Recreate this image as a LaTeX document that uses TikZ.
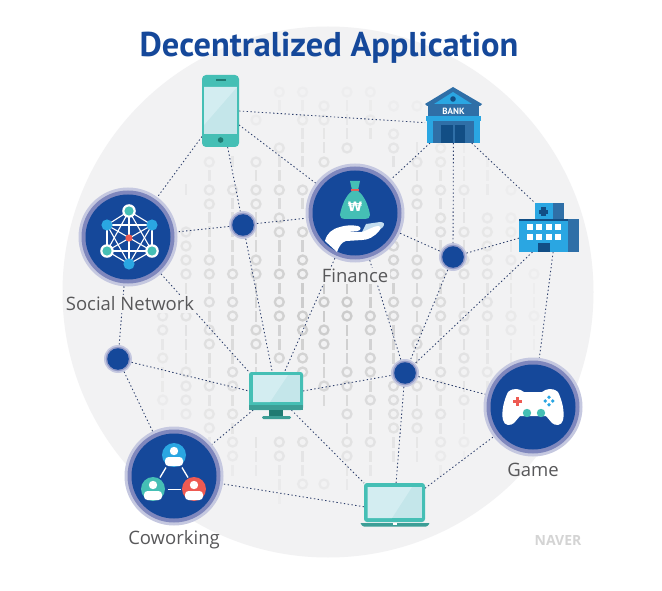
\documentclass[tikz,border=0pt]{standalone}
\usepackage{fontspec}
\setmainfont{Open Sans}
\newfontfamily\titlefont{PT Sans}
\newfontfamily\symfont{DejaVu Sans}
\definecolor{bgc}{HTML}{F2F2F3}
\definecolor{navy}{HTML}{15489A}
\definecolor{ringa}{HTML}{7F87BD}
\definecolor{ringb}{HTML}{C5C8E0}
\definecolor{teal}{HTML}{45BFB5}
\definecolor{tealdk}{HTML}{3C9E96}
\definecolor{tealxd}{HTML}{1F7A72}
\definecolor{scr}{HTML}{C4E6EA}
\definecolor{scrl}{HTML}{D3EDF1}
\definecolor{skyb}{HTML}{2AA6E2}
\definecolor{midb}{HTML}{2F6FA7}
\definecolor{darkb}{HTML}{124E85}
\definecolor{redc}{HTML}{EE5A52}
\definecolor{txt}{HTML}{58585A}
\definecolor{dotc}{HTML}{2C3E6B}
\definecolor{patc}{HTML}{CACACA}
\tikzset{
  bigcirc/.style={circle,fill=ringb,minimum size=99pt,inner sep=0pt,outer sep=0pt},
  hubnode/.style={circle,fill=ringb,minimum size=28pt,inner sep=0pt,outer sep=0pt},
  iconbox/.style={rectangle,inner sep=0pt,outer sep=0pt},
  link/.style={draw=dotc,line width=0.85pt,dash pattern=on 1.4pt off 2.4pt},
  lab/.style={text=txt,font=\fontsize{18.5}{20}\selectfont,fill=bgc,inner sep=1.5pt},
}
\newcommand\patcell[1]{%
  \pgfmathsetmacro\patop{max(0.1,min(1,1.05-veclen(\patx-330,\paty-300)/220))}%
  \if#1o\draw[patc,line width=2.3pt,opacity=\patop] (\patx,\paty) circle (4.5pt);\fi
  \if#1b\fill[patc,opacity=\patop] (\patx-1.3,\paty-5.5) rectangle (\patx+1.3,\paty+5.5);\fi
  \pgfmathsetmacro\paty{\paty+14}}
\def\patnext#1{\ifx#1\relax\let\patgo\relax\else\patcell{#1}\let\patgo\patnext\fi\patgo}
\newcommand\patcol[2]{\def\patx{#1}\def\paty{92}\patnext#2\relax}
\newcommand\bigdisc[1]{\fill[ringa] (#1) circle (46.5pt); \fill[navy] (#1) circle (42.5pt);}
\newcommand\person[2]{\begin{scope}[shift={(#1)}]
  \fill[#2] (0,0) circle (12pt);
  \fill[white] (0,-4) circle (4.2pt);
  \fill[white,rounded corners=3.5pt] (-9,2) rectangle (9,11);
\end{scope}}
\begin{document}
\begin{tikzpicture}[x=1pt,y=-1pt]
\useasboundingbox (0,0) rectangle (662,591);
\fill[white] (0,0) rectangle (662,591);
\fill[bgc] (328,292) circle (265.5pt);
% binary pattern
\patcol{162.7}{nnnnnnnnnnnnnnnnoobobbobnnnnnnn}
\patcol{186}{nnnnnnnbnnoooobnobbboooonnnnnnn}
\patcol{209.3}{nnnnn oboobbb oob ob oo bb oboobb nnnn}
\patcol{232.6}{nnnnn b n o bbbbb o b oo bbb oo b o b oo b nnn}
\patcol{256}{nn o nn o b oo bbb oo bbb oo bb nnnn bbb nnn}
\patcol{279.3}{ob nn o bb o b oo bb o b oo bb o nnnnn oo bbb n}
\patcol{302.6}{obobbb n o b n o b oo bb oo b oo n nnn o bb o nn}
\patcol{324}{noobbo nnnnnnnn boboobbob nnnnn onn}
\patcol{347}{obbbo nnnnnnnnn boo bbb oo b o b oo bb nn}
\patcol{370.3}{obob nnnnnnnnnn bb oo b oo b o bb o bb nnn}
\patcol{393.6}{nonoob nnnnn ooo b oo bbb n oooo bb nnnn}
\patcol{417}{n o nn b o b oo bbb oo b o b oo bb o b oo bb nnnn}
\patcol{440.6}{nnnn oo b o b oo b n o b oo bbb oo b o b oo b nnn}
\patcol{464}{nnnn bbb o bb o b oo bb oo b oo b o bb o b nnnn}
\patcol{487.3}{nnnnn bbb n ooooo b oo bbb o bb nnnnnnnn}
\patcol{511}{nnnnnnn o n oo b o bbb oo bbb nnnnnnnnnn}
\patcol{534}{nnnnnnnnnnnnn o bb o bb nnnnnnnnnnnn}
% nodes
\node[bigcirc] (finance) at (355,213) {};
\node[bigcirc] (social) at (128,237) {};
\node[bigcirc] (cowork) at (174,476) {};
\node[bigcirc] (game) at (533,407) {};
\node[hubnode] (hubA) at (243,225) {};
\node[hubnode] (hubB) at (453,257) {};
\node[hubnode] (hubC) at (405,373) {};
\node[hubnode] (hubD) at (118,359) {};
\node[iconbox,minimum width=37pt,minimum height=72pt] (phone) at (220.5,111) {};
\node[iconbox,minimum width=57pt,minimum height=56pt] (bank) at (453.5,115) {};
\node[iconbox,minimum width=60pt,minimum height=33pt] (hospMain) at (549,235.5) {};
\node[iconbox,minimum width=29pt,minimum height=16pt] (hospUp) at (549.5,211) {};
\node[iconbox,minimum width=54pt,minimum height=38pt] (monitor) at (276,391) {};
\node[iconbox,minimum width=61pt,minimum height=39pt] (laptop) at (394.5,502.5) {};
% connectors
\draw[link] (phone.-37) -- (finance);
\draw[link] (phone.east) -- (bank.195);
\draw[link] (phone) -- (hubA);
\draw[link] (phone.234) -- (social);
\draw[link] (bank.-130) -- (finance);
\draw[link] (bank) -- (hubB);
\draw[link] (bank.-57) -- (hospUp.north west);
\draw[link] (hubA) -- (social);
\draw[link] (hubA) -- (finance);
\draw[link] (hubA) -- (monitor);
\draw[link] (finance) -- (hubB);
\draw[link] (finance) -- (monitor);
\draw[link] (finance) -- (hubC);
\draw[link] (hospMain.185) -- (hubB);
\draw[link] (hospMain.225) -- (hubC);
\draw[link] (hospMain.-76) -- (game);
\draw[link] (hubB) -- (hubC);
\draw[link] (social) -- (monitor.north west);
\draw[link] (social) -- (hubD);
\draw[link] (hubD) -- (monitor.west);
\draw[link] (hubD) -- (cowork);
\draw[link] (monitor) -- (cowork);
\draw[link] (monitor.-51) -- (laptop.north west);
\draw[link] (monitor.east) -- (hubC);
\draw[link] (hubC) -- (game);
\draw[link] (hubC) -- (laptop);
\draw[link] (laptop.25) -- (game);
\draw[link] (laptop.188) -- (cowork);
% hubs
\foreach \h in {hubA,hubB,hubC,hubD}{\fill[ringa!70!ringb] (\h) circle (12.3pt); \fill[navy] (\h) circle (10.8pt);}
% big discs
\bigdisc{finance} \bigdisc{social} \bigdisc{cowork} \bigdisc{game}
% phone icon
\fill[teal,rounded corners=4pt] (202,75) rectangle (239,147);
\fill[scr] (204,87) rectangle (237,134);
\fill[scrl] (204,87) -- (237,87) -- (204,125) -- cycle;
\fill[tealxd] (220.6,140) circle (2.8pt);
\fill[tealxd] (216,79.3) rectangle (226,80.7);
% bank icon
\fill[midb] (453,87) -- (482,104) -- (480,106) -- (427,106) -- (425,104) -- cycle;
\fill[skyb] (453,92) -- (472,104) -- (434,104) -- cycle;
\fill[darkb] (453,99) circle (2.8pt);
\fill[midb] (428,106) rectangle (479,116);
\node[text=white,font=\titlefont\bfseries\fontsize{9}{10}\selectfont,inner sep=0pt] (banktext) at (453.5,111) {BANK};
\fill[skyb] (426,116) rectangle (481,121);
\fill[midb] (433,121) rectangle (474,143);
\fill[skyb] (427,121) rectangle (433,143);
\fill[skyb] (474,121) rectangle (480,143);
\fill[darkb] (441,125) rectangle (452.5,143);
\fill[darkb] (454.5,125) rectangle (465,143);
% hospital icon
\fill[skyb] (535,203) rectangle (553,219);
\fill[midb] (553,203) rectangle (564,219);
\fill[skyb] (519,219) rectangle (568,252);
\fill[midb] (568,219) rectangle (579,252);
\fill[darkb] (519,219) rectangle (568,221);
\fill[darkb] (541,207.5) rectangle (545.5,216.5);
\fill[darkb] (538.7,209.8) rectangle (547.8,214.2);
\foreach \wx in {530,539.3,549,558.3}\foreach \wy in {227,237}{\fill[white] (\wx-3,\wy-3) rectangle (\wx+3,\wy+3);}
\fill[darkb] (538,243) rectangle (550,252);
% monitor icon
\fill[teal,rounded corners=2.5pt] (249,372) rectangle (303,410);
\fill[tealdk] (249,405) rectangle (303,410);
\fill[scr] (253,375) rectangle (300,402);
\fill[scrl] (253,375) -- (288,375) -- (270,402) -- (253,402) -- cycle;
\fill[tealxd] (269,410) rectangle (283,416);
\fill[tealdk,rounded corners=1.3pt] (262,416) rectangle (291,419);
% laptop icon
\fill[teal,rounded corners=3pt] (364,483) rectangle (425,522);
\fill[scr] (367.5,487) rectangle (421.5,518);
\fill[scrl] (367.5,487) -- (412,487) -- (392,518) -- (367.5,518) -- cycle;
\fill[tealdk,rounded corners=1pt] (360,523) -- (430,523) -- (427,526.5) -- (363,526.5) -- cycle;
\fill[white] (393,523) rectangle (397,525);
% finance icon
\fill[teal] (350,181) -- (360,181) -- (358,190) -- (352,190) -- cycle;
\fill[redc] (351,189) rectangle (359,191);
\fill[teal] (352,191) -- (358,191) .. controls (365,196) and (369,208) .. (370,215) .. controls (370,218) and (368,219) .. (365,219) -- (345,219) .. controls (342,219) and (340,218) .. (340,215) .. controls (341,208) and (345,196) .. (352,191) -- cycle;
\node[text=white,font=\symfont\bfseries\fontsize{13}{14}\selectfont,inner sep=0pt] (won) at (355,207) {₩};
\fill[ringb!60!skyb!50!white] (366,224) -- (380,222) .. controls (384,222) and (385,224) .. (383,227) -- (372,236) -- (362,232) -- cycle;
\fill[white] (325,241) .. controls (327,233) and (332,229) .. (340,227) .. controls (346,225) and (352,225) .. (358,226) .. controls (362,227) and (361,231) .. (357,231) -- (344,232) -- (362,232) .. controls (368,230) and (374,226) .. (378,226) .. controls (381,226) and (381,229) .. (379,231) .. controls (374,237) and (368,240) .. (362,240) -- (346,241) .. controls (342,242) and (339,246) .. (337,252) -- cycle;
% social icon
\coordinate (gtop) at (129,211); \coordinate (gtr) at (152,225); \coordinate (gbr) at (152,251);
\coordinate (gbot) at (129,264); \coordinate (gbl) at (107,251); \coordinate (gtl) at (107,225); \coordinate (gc) at (129,238);
\foreach \a/\b in {gtop/gtr,gtr/gbr,gbr/gbot,gbot/gbl,gbl/gtl,gtl/gtop,gtop/gbot,gtl/gbr,gtr/gbl,gtop/gbr,gtop/gbl,gtl/gtr,gbl/gbr,gtl/gbot,gtr/gbot}{\draw[white,line width=1.1pt] (\a) -- (\b);}
\foreach \n/\c in {gtop/teal,gbr/teal,gbl/teal}{\fill[white] (\n) circle (6.8pt); \fill[\c] (\n) circle (4.6pt);}
\foreach \n in {gtr,gbot,gtl}{\fill[skyb] (\n) circle (5.6pt);}
\fill[redc] (gc) circle (3.6pt);
% coworking icon
\draw[white,line width=1.3pt] (166,467.5) -- (160,477.5);
\draw[white,line width=1.3pt] (182,467.5) -- (188,477.5);
\draw[white,line width=1.3pt] (167.5,489.5) -- (180.5,489.5);
\person{174,455}{skyb}
\person{153,489}{teal}
\person{194,489}{redc}
% game icon
\fill[white] (508,392) .. controls (514,387) and (520,389) .. (524,392) -- (542,392) .. controls (546,389) and (552,387) .. (558,392) .. controls (562,400) and (565,412) .. (563,420) .. controls (562,426) and (555,426) .. (552,423) -- (546,416) -- (520,416) -- (514,423) .. controls (511,426) and (504,426) .. (503,420) .. controls (501,412) and (504,400) .. (508,392) -- cycle;
\fill[redc] (515.5,396.5) rectangle (518.5,405.5);
\fill[redc] (512.5,399.5) rectangle (521.5,402.5);
\foreach \dx/\dy in {0/-3.8,0/3.8,-3.8/0,3.8/0}{\fill[skyb] (549+\dx,401+\dy) circle (1.9pt);}
\fill[teal] (527,413) circle (4.2pt);
\fill[teal] (541,413) circle (4.2pt);
% labels
\node[lab] (lfinance) at (355,276) {Finance};
\node[lab] (lsocial) at (130,304) {Social Network};
\node[lab,fill=none] (lcowork) at (174,540) {Coworking};
\node[lab,fill=none] (lgame) at (533,470) {Game};
\node[text=navy,font=\titlefont\bfseries\fontsize{34.4}{36}\selectfont,inner sep=0pt] (title) at (329,48) {Decentralized Application};
\node[text=black!17,font=\bfseries\fontsize{14}{15}\selectfont,inner sep=0pt] (naver) at (558,540) {NAVER};
\end{tikzpicture}
\end{document}
